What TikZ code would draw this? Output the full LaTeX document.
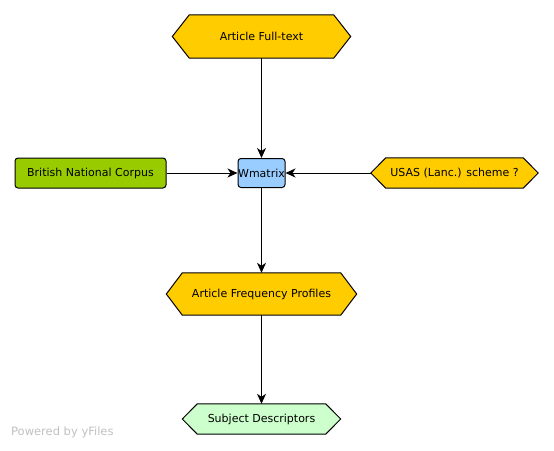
\documentclass[tikz,border=0pt]{standalone}
\usepackage{fontspec}
\setmainfont{DejaVu Sans}
\usetikzlibrary{arrows.meta,backgrounds}
\definecolor{gold}{HTML}{FFCC00}
\definecolor{leaf}{HTML}{99CC00}
\definecolor{sky}{HTML}{99CCFF}
\definecolor{mint}{HTML}{CCFFCC}
\definecolor{yfgray}{HTML}{C0C0C0}
\tikzset{
  box/.style={draw=black, line width=1pt, rounded corners=3pt, inner sep=0pt, font=\fontsize{11}{13}\selectfont},
  hexbox/.style={inner sep=0pt, font=\fontsize{11}{13}\selectfont},
  conn/.style={draw=black, line width=1pt, -{Stealth[length=10pt,width=9pt,inset=3pt]}},
}
\newcommand{\hexdraw}[3]{%
  \draw[fill=#3, line width=1pt] (#1.west) -- ([xshift=#2]#1.north west) -- ([xshift=-#2]#1.north east) -- (#1.east) -- ([xshift=-#2]#1.south east) -- ([xshift=#2]#1.south west) -- cycle;}
\begin{document}
\begin{tikzpicture}[x=1pt,y=-1pt]
\useasboundingbox (0,0) rectangle (554,450);
\node[hexbox, minimum width=178pt, minimum height=43pt] (aft) at (261.5,36.5) {Article Full-text};
\node[box, fill=sky, minimum width=47pt, minimum height=29pt] (wm) at (261.5,173) {Wmatrix};
\node[box, fill=leaf, minimum width=151pt, minimum height=30pt] (bnc) at (90.5,173) {British National Corpus};
\node[hexbox, minimum width=167pt, minimum height=30pt] (usas) at (454.5,173) {USAS (Lanc.) scheme ?};
\node[hexbox, minimum width=190pt, minimum height=42pt] (afp) at (261.5,294) {Article Frequency Profiles};
\node[hexbox, minimum width=158pt, minimum height=30pt] (sd) at (261.5,419) {Subject Descriptors};
\node[anchor=west, text=yfgray, inner sep=0pt, font=\fontsize{11.5}{13}\selectfont] (pw) at (11,432) {Powered by yFiles};
\begin{scope}[on background layer]
\hexdraw{aft}{17pt}{gold}
\hexdraw{usas}{15pt}{gold}
\hexdraw{afp}{16pt}{gold}
\hexdraw{sd}{15pt}{mint}
\end{scope}
\draw[conn] (aft.south) -- (wm.north);
\draw[conn] (bnc.east) -- (wm.west);
\draw[conn] (usas.west) -- (wm.east);
\draw[conn] (wm.south) -- (afp.north);
\draw[conn] (afp.south) -- (sd.north);
\end{tikzpicture}
\end{document}
